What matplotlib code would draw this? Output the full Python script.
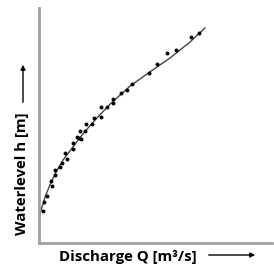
import matplotlib.pyplot as plt
from matplotlib.patches import FancyArrowPatch

# measured points (Q, h) on a 0-10 scale
q_obs = [0.17, 0.21, 0.34, 0.56, 0.52, 0.69, 0.69, 0.90, 0.99, 1.20, 1.12,
         1.46, 1.46, 1.63, 1.72, 1.80, 1.76, 1.97, 2.02, 2.28, 2.36, 2.66,
         2.66, 2.92, 3.18, 3.18, 3.52, 3.78, 3.99, 4.72, 5.06, 5.49, 5.88,
         6.52, 6.87]
h_obs = [1.36, 1.74, 2.00, 2.43, 2.64, 2.89, 3.11, 3.23, 3.40, 3.57, 3.83,
         4.00, 4.26, 4.51, 4.47, 4.43, 4.77, 4.77, 5.06, 5.06, 5.32, 5.79,
         5.36, 5.79, 6.13, 5.96, 6.38, 6.51, 6.77, 7.23, 7.62, 8.09, 8.21,
         8.77, 8.94]

# fitted rating curve
q_fit = [0.0, 0.04, 0.13, 0.26, 0.47, 0.73, 1.03, 1.42, 1.85, 2.40, 3.05,
         3.91, 4.76, 5.62, 6.48, 7.12]
h_fit = [0.89, 1.23, 1.53, 1.96, 2.47, 3.02, 3.53, 4.04, 4.60, 5.23, 5.91,
         6.68, 7.28, 7.87, 8.55, 9.15]

fig = plt.figure(figsize=(2.74, 2.79), dpi=100)
ax = fig.add_axes([39/274, 36/279, 233/274, 235/279])
ax.set_xlim(0, 10)
ax.set_ylim(0, 10)

ax.plot(q_fit, h_fit, color="#444444", linewidth=1.0, zorder=2)
ax.scatter(q_obs, h_obs, s=8, color="black", zorder=3, linewidths=0)

for s in ["top", "right"]:
    ax.spines[s].set_visible(False)
for s in ["left", "bottom"]:
    ax.spines[s].set_color("#a0a0a0")
    ax.spines[s].set_linewidth(2)
ax.set_xticks([])
ax.set_yticks([])

fig.text(128/274, 1 - 257/279, "Discharge Q [m³/s]", ha="center", va="center",
         fontsize=10.8, fontweight="bold", family=["Open Sans", "DejaVu Sans"])
fig.text(22/274, 1 - 174/279, "Waterlevel h [m]", ha="center", va="center",
         rotation=90, fontsize=10.8, fontweight="bold", family=["Open Sans", "DejaVu Sans"])

arr = dict(arrowstyle="-|>", color="black", linewidth=1.0, mutation_scale=7)
fig.add_artist(FancyArrowPatch((206/274, 1 - 255/279), (258/274, 1 - 255/279),
                               transform=fig.transFigure, **arr))
fig.add_artist(FancyArrowPatch((23/274, 1 - 105/279), (23/274, 1 - 62/279),
                               transform=fig.transFigure, **arr))

fig.savefig("out.png", dpi=100, facecolor="white")
